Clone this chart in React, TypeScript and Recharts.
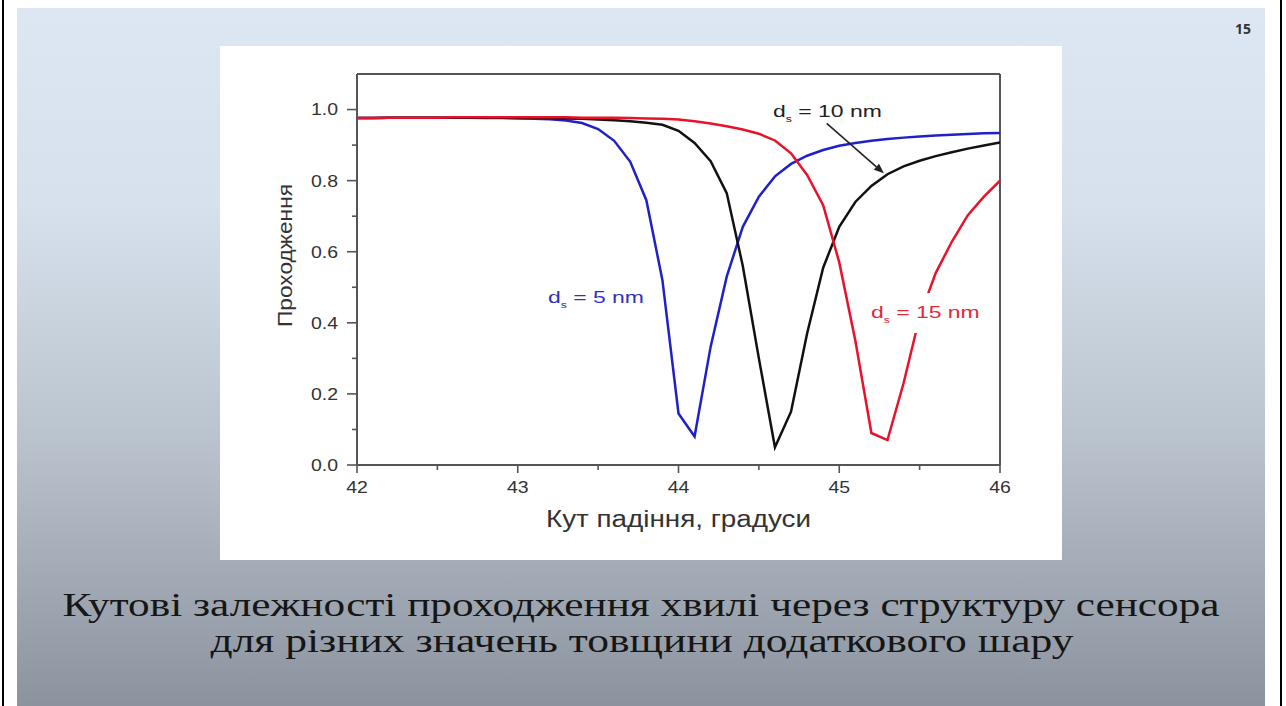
import React from "react";
import { LineChart, Line, XAxis, YAxis, ReferenceLine, ReferenceDot, Label } from "recharts";

// кут падіння, градуси (крок 0.1)
const ANGLE = [
  42.0, 42.1, 42.2, 42.3, 42.4, 42.5, 42.6, 42.7, 42.8, 42.9,
  43.0, 43.1, 43.2, 43.3, 43.4, 43.5, 43.6, 43.7, 43.8, 43.9,
  44.0, 44.1, 44.2, 44.3, 44.4, 44.5, 44.6, 44.7, 44.8, 44.9,
  45.0, 45.1, 45.2, 45.3, 45.4, 45.5, 45.6, 45.7, 45.8, 45.9,
  46.0,
];

// проходження для d_s = 5 nm
const T_5NM = [
  0.976, 0.976, 0.977, 0.977, 0.977, 0.977, 0.977, 0.977, 0.976, 0.976,
  0.975, 0.974, 0.973, 0.969, 0.962, 0.945, 0.912, 0.853, 0.745, 0.52,
  0.145, 0.08, 0.333, 0.53, 0.67, 0.755, 0.812, 0.847, 0.87, 0.886,
  0.898, 0.906, 0.912, 0.917, 0.921, 0.924, 0.927, 0.929, 0.931, 0.933,
  0.934,
];

// d_s = 10 nm
const T_10NM = [
  0.976, 0.976, 0.977, 0.977, 0.977, 0.977, 0.977, 0.977, 0.977, 0.977,
  0.977, 0.977, 0.976, 0.975, 0.974, 0.972, 0.97, 0.967, 0.963, 0.957,
  0.94, 0.906, 0.855, 0.765, 0.56, 0.3, 0.05, 0.15, 0.37, 0.555,
  0.67, 0.74, 0.785, 0.818, 0.84, 0.856, 0.869, 0.88, 0.89, 0.899,
  0.907,
];

// d_s = 15 nm
const T_15NM = [
  0.976, 0.976, 0.977, 0.977, 0.977, 0.977, 0.978, 0.978, 0.978, 0.978,
  0.978, 0.978, 0.978, 0.978, 0.977, 0.977, 0.977, 0.976, 0.975, 0.974,
  0.972, 0.967, 0.961, 0.953, 0.944, 0.932, 0.913, 0.877, 0.816, 0.731,
  0.57, 0.35, 0.09, 0.07, 0.23, 0.417, 0.54, 0.628, 0.703, 0.755,
  0.8,
];

const Y_TICKS = [0, 0.1, 0.2, 0.3, 0.4, 0.5, 0.6, 0.7, 0.8, 0.9, 1.0];
const X_TICKS = [42, 42.5, 43, 43.5, 44, 44.5, 45, 45.5, 46];

const rows = ANGLE.map((a, i) => ({ angle: a, d5: T_5NM[i], d10: T_10NM[i], d15: T_15NM[i] }));

const BLUE = "#2020c8";
const RED = "#e8122a";
const BLACK = "#111111";
const AXIS = "#555";
const FONT = "'Liberation Sans', Arial, sans-serif";

function XTick({ x, y, payload }: any) {
  const v = payload.value;
  const major = Number.isInteger(v);
  return (
    <g>
      <line x1={x} x2={x} y1={y} y2={y + (major ? 8 : 5)} stroke={AXIS} strokeWidth={1.6} />
      {major && (
        <text transform={`translate(${x},${y + 28}) scale(1.18,1)`} textAnchor="middle" fontSize={16.5} fontFamily={FONT} fill="#333">
          {v}
        </text>
      )}
    </g>
  );
}

function YTick({ x, y, payload }: any) {
  const v = payload.value;
  const major = Math.round(v * 10) % 2 === 0;
  return (
    <g>
      <line x1={x - (major ? 10 : 5)} x2={x} y1={y} y2={y} stroke={AXIS} strokeWidth={1.6} />
      {major && (
        <text transform={`translate(${x - 19},${y}) scale(1.18,1)`} textAnchor="end" dy="0.36em" fontSize={16.5} fontFamily={FONT} fill="#333">
          {v.toFixed(1)}
        </text>
      )}
    </g>
  );
}

function XTitle({ viewBox }: any) {
  return (
    <text x={viewBox.x + viewBox.width / 2} y={viewBox.y + 62} textAnchor="middle" fontSize={23} fontFamily={FONT} fill="#333" textLength={265} lengthAdjust="spacingAndGlyphs">
      Кут падіння, градуси
    </text>
  );
}

function YTitle({ viewBox }: any) {
  const cx = viewBox.x + viewBox.width - 72;
  const cy = viewBox.y + viewBox.height / 2 - 14;
  return (
    <text transform={`translate(${cx},${cy}) rotate(-90)`} textAnchor="middle" dominantBaseline="central" fontSize={20} fontFamily={FONT} fill="#333" textLength={143} lengthAdjust="spacingAndGlyphs">
      Проходження
    </text>
  );
}

function dsLabel(value: string, color: string, bg?: boolean) {
  return (p: any) => (
    <g>
      {bg && <rect x={p.cx - 6} y={p.cy - 25} width={124} height={40} fill="#fff" />}
      <text transform={`translate(${p.cx},${p.cy}) scale(1.35,1)`} fontSize={17} fontFamily={FONT} fill={color}>
        d
        <tspan fontSize={9} dy={5}>s</tspan>
        <tspan dy={-5}>{` = ${value}`}</tspan>
      </text>
    </g>
  );
}

function Arrow(p: any) {
  const { x1, y1, x2, y2 } = p;
  const dx = x2 - x1;
  const dy = y2 - y1;
  const len = Math.hypot(dx, dy) || 1;
  const ux = dx / len;
  const uy = dy / len;
  const bx = x2 - ux * 10;
  const by = y2 - uy * 10;
  return (
    <g>
      <line x1={x1} y1={y1} x2={bx} y2={by} stroke="#222" strokeWidth={1.6} />
      <polygon points={`${x2},${y2} ${bx - uy * 4},${by + ux * 4} ${bx + uy * 4},${by - ux * 4}`} fill="#222" />
    </g>
  );
}

export default function App() {
  return (
    <div style={{ position: "absolute", left: 0, top: 0, width: 1286, height: 706, background: "#fff", overflow: "hidden" }}>
      <div style={{ position: "absolute", left: 2, top: 0, width: 2, height: 706, background: "#000" }} />
      <div style={{ position: "absolute", left: 1280, top: 0, width: 2, height: 706, background: "#000" }} />
      <div
        style={{
          position: "absolute",
          left: 17,
          top: 8,
          width: 1248,
          height: 698,
          background: "linear-gradient(to bottom, #dde7f3 0%, #d7e1ed 28%, #bac3cd 62%, #8b949e 100%)",
        }}
      />
      <div style={{ position: "absolute", left: 220, top: 46, width: 842, height: 514, background: "#fff" }}>
        <LineChart width={842} height={514} data={rows} margin={{ top: 28, right: 62, left: 37, bottom: 15 }}>
          <XAxis
            type="number"
            dataKey="angle"
            domain={[42, 46]}
            ticks={X_TICKS}
            interval={0}
            height={80}
            tickSize={0}
            tickMargin={0}
            tickLine={false}
            tick={<XTick />}
            axisLine={{ stroke: AXIS, strokeWidth: 2 }}
            allowDataOverflow
          >
            <Label content={<XTitle />} />
          </XAxis>
          <YAxis
            type="number"
            domain={[0, 1.1]}
            ticks={Y_TICKS}
            interval={0}
            width={100}
            tickSize={0}
            tickMargin={0}
            tickLine={false}
            tick={<YTick />}
            axisLine={{ stroke: AXIS, strokeWidth: 2 }}
            allowDataOverflow
          >
            <Label content={<YTitle />} />
          </YAxis>
          <ReferenceLine y={1.1} stroke={AXIS} strokeWidth={2} />
          <ReferenceLine x={46} stroke={AXIS} strokeWidth={2} />
          <Line type="linear" dataKey="d5" stroke={BLUE} strokeWidth={2.5} dot={false} isAnimationActive={false} />
          <Line type="linear" dataKey="d10" stroke={BLACK} strokeWidth={2.5} dot={false} isAnimationActive={false} />
          <Line type="linear" dataKey="d15" stroke={RED} strokeWidth={2.5} dot={false} isAnimationActive={false} />
          <ReferenceLine segment={[{ x: 44.922, y: 0.961 }, { x: 45.278, y: 0.8205 }]} shape={Arrow} />
          <ReferenceDot x={43.188} y={0.455} r={0} shape={dsLabel("5 nm", "#3030c8")} ifOverflow="visible" />
          <ReferenceDot x={44.588} y={0.98} r={0} shape={dsLabel("10 nm", "#222")} ifOverflow="visible" />
          <ReferenceDot x={45.197} y={0.4135} r={0} shape={dsLabel("15 nm", "#e0283a", true)} ifOverflow="visible" />
        </LineChart>
      </div>
      <svg style={{ position: "absolute", left: 0, top: 0 }} width={1286} height={706}>
        <text x={1243} y={34} textAnchor="middle" fontSize={14} fontWeight="bold" fontFamily="'Open Sans', sans-serif" fill="#333">
          15
        </text>
        <text x={641} y={616} textAnchor="middle" fontSize={33} fontFamily="'Liberation Serif', serif" fill="#161616" textLength={1157} lengthAdjust="spacingAndGlyphs">
          Кутові залежності проходження хвилі через структуру сенсора
        </text>
        <text x={642} y={652} textAnchor="middle" fontSize={33} fontFamily="'Liberation Serif', serif" fill="#161616" textLength={863} lengthAdjust="spacingAndGlyphs">
          для різних значень товщини додаткового шару
        </text>
      </svg>
    </div>
  );
}
